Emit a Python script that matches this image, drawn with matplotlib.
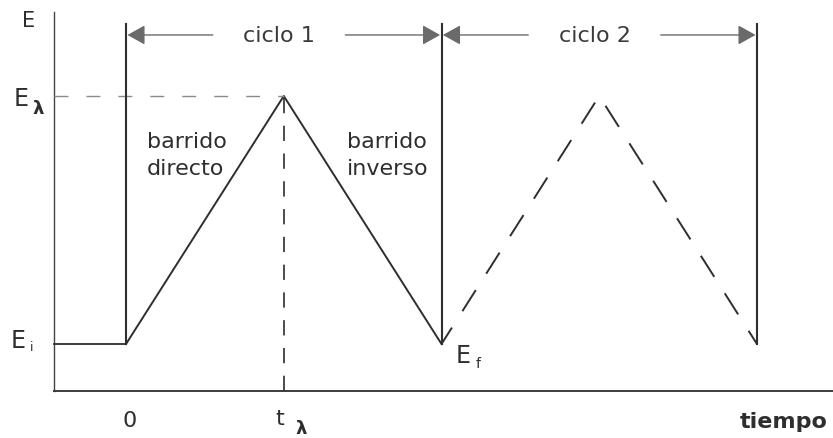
import numpy as np
import matplotlib.pyplot as plt
from matplotlib.patches import FancyArrowPatch

plt.rcParams['lines.scale_dashes'] = False
plt.rcParams['font.family'] = ['DejaVu Sans']

# forma de onda triangular (voltametria ciclica)
E_i = 0.0
E_lambda = 1.0
t_lambda = 1.0
ciclo1_t = [0.0, 1.0, 2.0]
ciclo1_E = [0.0, 1.0, 0.0]
ciclo2_t = [2.0, 3.0, 4.0]
ciclo2_E = [0.0, 1.0, 0.0]
ciclo_nombres = ['ciclo 1', 'ciclo 2']
ciclo_limites = [(0.0, 2.0), (2.0, 4.0)]

ink = '#2e2e2e'
gris = '#6a6a6a'

fig = plt.figure(figsize=(8.33, 4.39), dpi=100)
ax = fig.add_axes([0, 0, 1, 1])
ax.set_xlim(-0.799, 4.482)
ax.set_ylim(-0.379, 1.391)
ax.axis('off')

# ejes
t0_eje = -0.456
E0_eje = -0.19
ax.plot([t0_eje, t0_eje], [E0_eje, 1.339], color='#444444', lw=1.0)
ax.plot([t0_eje, 4.482], [E0_eje, E0_eje], color=ink, lw=1.3)

# potencial inicial y ciclo 1
ax.plot([t0_eje, ciclo1_t[0]], [E_i, ciclo1_E[0]], color=ink, lw=1.3)
ax.plot(ciclo1_t, ciclo1_E, color=ink, lw=1.4)

# ciclo 2 (discontinuo)
ax.plot(ciclo2_t, ciclo2_E, color=ink, lw=1.4, linestyle=(4, (18, 14)))

# guias de E_lambda y t_lambda
ax.plot([t0_eje, t_lambda], [E_lambda, E_lambda], color='#8a8a8a', lw=1.0,
        linestyle=(0, (10, 13)))
ax.plot([t_lambda, t_lambda], [E0_eje, E_lambda], color=ink, lw=1.2,
        linestyle=(0, (11, 9)))

# lineas verticales que delimitan los ciclos
y_top = 1.29
for tv in [0.0, 2.0, 4.0]:
    ax.plot([tv, tv], [E_i, y_top], color=ink, lw=1.5)

# flechas y rotulos de ciclo
y_flecha = 1.246
hueco = 0.42
for nombre, (a, b) in zip(ciclo_nombres, ciclo_limites):
    c = (a + b) / 2 - 0.03
    ax.text(c, y_flecha, nombre, ha='center', va='center', fontsize=16,
            color='#3a3a3a')
    for x_ini, x_fin in [(c - hueco, a), (c + hueco, b)]:
        flecha = FancyArrowPatch((x_ini, y_flecha), (x_fin, y_flecha),
                                 arrowstyle='-|>,head_length=0.9,head_width=0.5',
                                 mutation_scale=12, color=gris, lw=1.0,
                                 shrinkA=0, shrinkB=1)
        ax.add_patch(flecha)

# rotulos de barrido
ax.text(0.133, 0.794, 'barrido', ha='left', va='baseline', fontsize=16, color=ink)
ax.text(0.133, 0.685, 'directo', ha='left', va='baseline', fontsize=16, color=ink)
ax.text(1.401, 0.794, 'barrido', ha='left', va='baseline', fontsize=16, color=ink)
ax.text(1.401, 0.685, 'inverso', ha='left', va='baseline', fontsize=16, color=ink)

# etiquetas del eje de potencial
ax.text(-0.621, 1.306, 'E', ha='center', va='center', fontsize=15, color=ink)
ax.text(-0.665, 0.99, 'E', ha='center', va='center', fontsize=17, color=ink)
ax.text(-0.555, 0.95, 'λ', ha='center', va='center', fontsize=13,
        fontweight='bold', color=ink)
ax.text(-0.685, 0.015, 'E', ha='center', va='center', fontsize=17, color=ink)
ax.text(-0.6, -0.01, 'i', ha='center', va='center', fontsize=9, color=ink)
ax.text(2.14, -0.045, 'E', ha='center', va='center', fontsize=17, color=ink)
ax.text(2.23, -0.075, 'f', ha='center', va='center', fontsize=10, color=ink)

# etiquetas del eje de tiempo
ax.text(0.025, -0.306, '0', ha='center', va='center', fontsize=16, color=ink)
ax.text(0.976, -0.298, 't', ha='center', va='center', fontsize=16, color=ink)
ax.text(1.109, -0.337, 'λ', ha='center', va='center', fontsize=13,
        fontweight='bold', color=ink)
ax.text(4.171, -0.31, 'tiempo', ha='center', va='center', fontsize=16,
        fontweight='bold', color=ink)

fig.savefig('out.png', dpi=100, facecolor='white')
